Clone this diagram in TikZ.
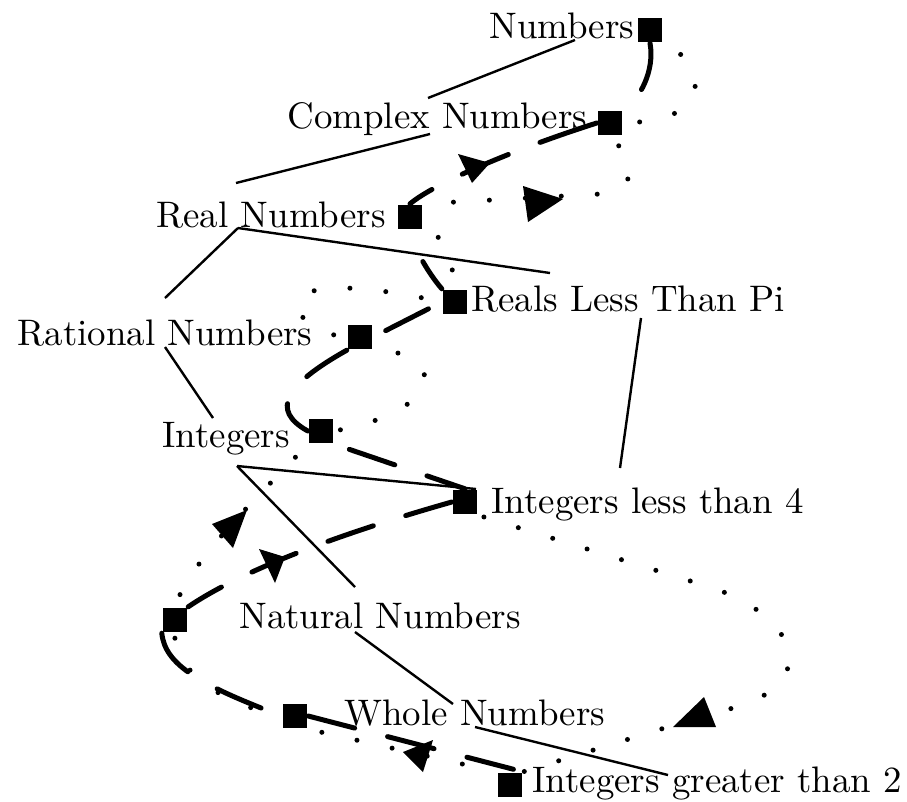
\documentclass[tikz,border=0pt]{standalone}
\usetikzlibrary{calc}
\tikzset{
  every picture/.style={line width=2.4pt},
  term/.style={anchor=base west, inner sep=0pt, scale=3.69},
  sqbox/.style={fill=black, inner sep=0pt, minimum size=24pt},
  treeline/.style={line width=2.4pt},
  dashedge/.style={line width=5pt, line cap=round, dash pattern=on 48pt off 34pt},
  dotedge/.style={line width=5pt, line cap=round, dash pattern=on 0pt off 36pt},
}
\begin{document}
\begin{tikzpicture}[x=1pt, y=-1pt]
  \useasboundingbox (0,0) rectangle (907,801);
  % the names
  \node[term] (num)  at (485,38)  {Numbers};
  \node[term] (cpx)  at (283,128) {Complex Numbers};
  \node[term] (real) at (152,227) {Real Numbers};
  \node[term] (rlp)  at (467,311) {Reals Less Than Pi};
  \node[term] (rat)  at (13,345)  {Rational Numbers};
  \node[term] (int)  at (158,447) {Integers};
  \node[term] (ilt)  at (487,513) {Integers less than 4};
  \node[term] (nat)  at (235,628) {Natural Numbers};
  \node[term] (who)  at (340,725) {Whole Numbers};
  \node[term] (igt)  at (528,792) {Integers greater than 2};
  % the markers
  \node[sqbox] (sqnum)  at (650,30)  {};
  \node[sqbox] (sqcpx)  at (610,123) {};
  \node[sqbox] (sqreal) at (410,217) {};
  \node[sqbox] (sqrlp)  at (455,302) {};
  \node[sqbox] (sqrat)  at (360,337) {};
  \node[sqbox] (sqint)  at (321,431) {};
  \node[sqbox] (sqilt)  at (465,502) {};
  \node[sqbox] (sqnat)  at (175,620) {};
  \node[sqbox] (sqwho)  at (295,716) {};
  \node[sqbox] (sqigt)  at (510,785) {};
  % the tree
  \draw[treeline] ($(num.base west)+(90,2)$) -- ($(cpx.base west)+(145,-30)$);
  \draw[treeline] ($(cpx.base west)+(147,6)$) -- ($(real.base west)+(84,-44)$);
  \draw[treeline] ($(real.base west)+(86,1)$) -- ($(rat.base west)+(152,-47)$);
  \draw[treeline] ($(real.base west)+(86,1)$) -- ($(rlp.base west)+(83,-38)$);
  \draw[treeline] ($(rlp.base west)+(174,7)$) -- ($(ilt.base west)+(133,-45)$);
  \draw[treeline] ($(rat.base west)+(152,2)$) -- ($(int.base west)+(55,-29)$);
  \draw[treeline] ($(int.base west)+(79,19)$) -- ($(ilt.base west)+(-11,-24)$);
  \draw[treeline] ($(int.base west)+(79,19)$) -- ($(nat.base west)+(120,-41)$);
  \draw[treeline] ($(nat.base west)+(120,4)$) -- ($(who.base west)+(113,-21)$);
  \draw[treeline] ($(who.base west)+(135,2)$) -- ($(igt.base west)+(140,-17)$);
  % dashed chain
  \draw[dashedge, dash pattern=on 48pt off 100pt] (sqnum.south) .. controls (655,70) and (640,100) .. (sqcpx.north east);
  \draw[dashedge, dash pattern=on 60pt off 34pt on 50pt off 34pt] (sqcpx.west) .. controls (521,147) and (436,182) .. (sqreal.north);
  \draw[dashedge, dash phase=48pt] (sqreal.south) .. controls (414,250) and (430,275) .. (sqrlp.north west);
  \draw[dashedge, dash phase=67pt] (sqrlp.west) -- (sqrat.east);
  \draw[dashedge] (sqrat.south west) .. controls (285,385) and (270,410) .. (sqint.west);
  \draw[dashedge, dash phase=66pt] (sqint.south east) -- (sqilt.north);
  \draw[dashedge] (sqilt.west) .. controls (360,528) and (250,565) .. (sqnat.north east);
  \draw[dashedge] (sqnat.south west) .. controls (165,665) and (200,685) .. (sqwho.west);
  \draw[dashedge] (sqwho.east) -- (sqigt.north east);
  % dotted chain
  \draw[dotedge, dash phase=15pt] (sqnum.south east) .. controls (690,50) and (735,120) .. (sqcpx.east);
  \draw[dotedge, dash phase=23pt] (sqcpx.south) .. controls (635,160) and (640,190) .. (600,194) -- (sqreal.north east);
  \draw[dotedge, dash phase=19pt] (sqreal.south east) .. controls (445,232) and (452,260) .. (sqrlp.north);
  \draw[dotedge, dash phase=15pt] (sqrlp.west) .. controls (380,288) and (310,280) .. (300,300) .. controls (292,318) and (320,335) .. (sqrat.west);
  \draw[dotedge, dash phase=11pt] (sqrat.south east) .. controls (445,350) and (450,410) .. (sqint.east);
  \draw[dotedge, dash phase=18pt] (sqint.south west) .. controls (265,490) and (190,560) .. (sqnat.north);
  \draw[dotedge, dash phase=31pt] (sqnat.south) .. controls (172,665) and (215,703) .. (sqwho.west);
  \draw[dotedge, dash phase=22pt] (sqwho.south east) -- (sqigt.north west);
  \draw[dotedge, dash phase=30pt] (sqilt.south east) -- (700,584) .. controls (800,612) and (830,690) .. (716,712) -- (sqigt.north east);
  % arrow heads
  \fill (458,154) -- (490,163) -- (472,183) -- cycle;
  \fill (523,186) -- (563,199) -- (528,222) -- cycle;
  \fill (259,549) -- (285,557) -- (275,583) -- cycle;
  \fill (212,524) -- (247,510) -- (233,548) -- cycle;
  \fill (403,752) -- (433,740) -- (423,772) -- cycle;
  \fill (673,727) -- (704,697) -- (716,727) -- cycle;
\end{tikzpicture}
\end{document}
